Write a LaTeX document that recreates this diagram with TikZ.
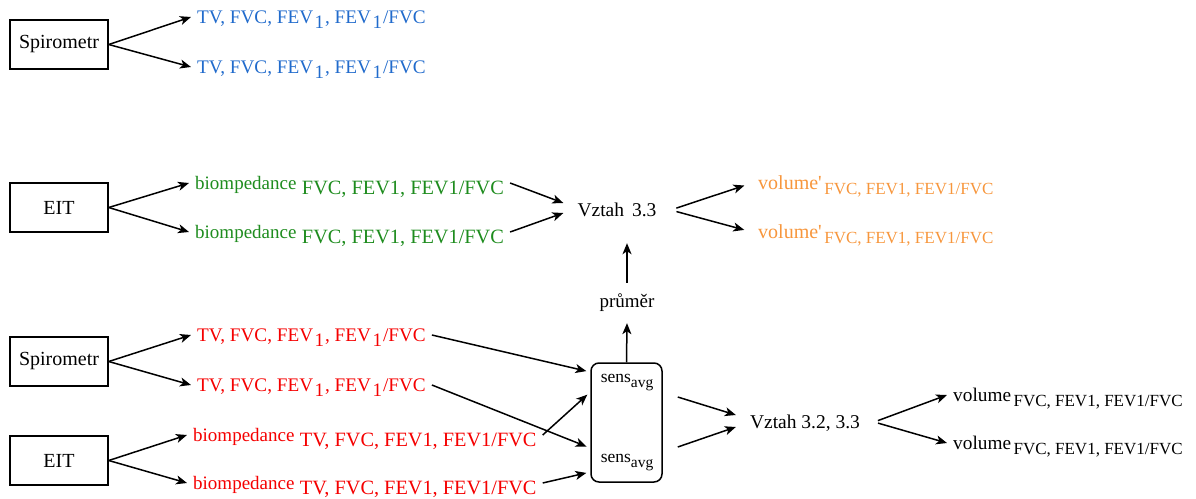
\documentclass[tikz,border=0pt]{standalone}
\usepackage{fontspec}
\setmainfont{Liberation Serif}
\usetikzlibrary{arrows.meta,calc}

\definecolor{specblue}{RGB}{33,107,204}
\definecolor{eitgreen}{RGB}{30,140,30}
\definecolor{calcorange}{RGB}{247,150,60}
\definecolor{avgred}{RGB}{245,0,0}

\newcommand\fs[1]{\fontsize{#1}{#1}\selectfont}
% lowered index "1" of FEV
\newcommand\idxone{\kern1.5pt\raisebox{-5pt}{\fs{19}1}\kern1pt}
\newcommand\spirovals{\fs{19.2}TV, FVC, FEV\idxone, FEV\idxone/FVC}
\newcommand\biovals[1]{{\fs{19}biompedance}\hspace{5.5pt}\raisebox{-5pt}{\fs{20.3}#1}}
\newcommand\volvals[1]{{\fs{20}#1} \raisebox{-5pt}{\fs{17}FVC, FEV1, FEV1/FVC}}
\newcommand\sensavg{\fs{17.5}sens\raisebox{-5pt}{\fs{15.5}avg}}

\begin{document}
\begin{tikzpicture}[x=1pt,y=-1pt,
  devbox/.style={draw,line width=1.5pt,minimum width=98pt,minimum height=49pt,
    inner sep=0pt,font=\fs{20}},
  lbl/.style={anchor=west,inner xsep=6pt,inner ysep=0pt,text height=13pt,text depth=0pt},
  vz/.style={inner xsep=14pt,inner ysep=26.5pt,text height=13pt,text depth=0pt,font=\fs{19.5}},
  sensbox/.style={draw,line width=1.5pt,rounded corners=8pt,minimum width=71pt,
    minimum height=119pt,inner sep=0pt},
  arr/.style={-{Stealth[length=11pt,width=9pt,inset=3pt]},line width=1.5pt}]
\useasboundingbox (0,0) rectangle (1196,498);

% --- spirometry only ---
\node[devbox] (sp1) at (59,44.5) {Spirometr};
\node[lbl,text=specblue] (bl1) at (191,17) {\spirovals};
\node[lbl,text=specblue] (bl2) at (191,67) {\spirovals};
\draw[arr] (sp1.east) -- (bl1.west);
\draw[arr] (sp1.east) -- (bl2.west);

% --- EIT with relation 3.3 ---
\node[devbox] (eit1) at (59,207.5) {EIT};
\node[lbl,text=eitgreen] (g1) at (189,183) {\biovals{FVC, FEV1, FEV1/FVC}};
\node[lbl,text=eitgreen] (g2) at (189,232) {\biovals{FVC, FEV1, FEV1/FVC}};
\draw[arr] (eit1.east) -- (g1.west);
\draw[arr] (eit1.east) -- (g2.west);

\node[vz] (v33) at (617,210) {Vztah\hspace{8pt}3.3};
\draw[arr] (g1.east) -- ($(v33.west)+(0,-7)$);
\draw[arr] (g2.east) -- ($(v33.west)+(0,3)$);

\node[lbl,text=calcorange] (o1) at (752,183) {\volvals{volume\textquotesingle}};
\node[lbl,text=calcorange] (o2) at (752,232) {\volvals{volume\textquotesingle}};
\draw[arr,shorten <=6pt,shorten >=8pt] (v33.east) -- (o1.west);
\draw[arr,shorten <=6pt,shorten >=8pt] (v33.east) -- (o2.west);

% --- averaged sensitivity ---
\node[devbox] (sp2) at (59,361.5) {Spirometr};
\node[devbox] (eit2) at (59,460.5) {EIT};
\node[lbl,text=avgred] (r1) at (191,335) {\spirovals};
\node[lbl,text=avgred] (r2) at (191,385) {\spirovals};
\node[lbl,text=avgred] (rb1) at (187,435) {\biovals{TV, FVC, FEV1, FEV1/FVC}};
\node[lbl,text=avgred] (rb2) at (187,483) {\biovals{TV, FVC, FEV1, FEV1/FVC}};
\draw[arr] (sp2.east) -- (r1.west);
\draw[arr] (sp2.east) -- (r2.west);
\draw[arr] (eit2.east) -- (rb1.west);
\draw[arr] (eit2.east) -- (rb2.west);

\node[sensbox] (sens) at (626.5,422.5) {};
\node (s1) at (627,383) {\sensavg};
\node (s2) at (627,463) {\sensavg};
\draw[arr,shorten >=4pt] (r1.east) -- ($(sens.west)+(0,-50.5)$);
\draw[arr,shorten >=4pt] (r2.east) -- ($(sens.west)+(0,25.5)$);
\draw[arr,shorten >=4pt] (rb1.east) -- ($(sens.west)+(0,-30.5)$);
\draw[arr,shorten >=4pt] (rb2.east) -- ($(sens.west)+(0,49.5)$);

\node[inner sep=0pt,minimum height=40pt,text height=13pt,text depth=4pt,font=\fs{19}]
  (pr) at (627,303) {průměr};
\draw[arr] (sens.north) -- (pr.south);
\draw[arr] (pr.north) -- (pr.north |- v33.south);

\node[vz,inner ysep=0pt] (v32) at (805,422) {Vztah 3.2, 3.3};
\draw[arr] ($(sens.east)+(15,-25.5)$) -- ($(v32.west)+(0,-7)$);
\draw[arr] ($(sens.east)+(15,24.5)$) -- ($(v32.west)+(0,5)$);

\node[lbl] (vo1) at (947,395) {\volvals{\fs{19.3}volume}};
\node[lbl] (vo2) at (947,443) {\volvals{\fs{19.3}volume}};
\draw[arr,shorten <=4pt] (v32.east) -- (vo1.west);
\draw[arr,shorten <=4pt] (v32.east) -- (vo2.west);
\end{tikzpicture}
\end{document}
